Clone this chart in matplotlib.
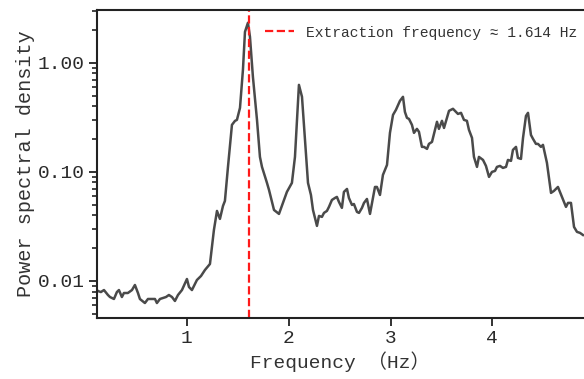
import numpy as np
import matplotlib.pyplot as plt

# Częstotliwość (Hz) i gęstość widmowa mocy
freq = [0.116, 0.126, 0.155, 0.185, 0.224, 0.244, 0.283, 0.312, 0.332, 0.361,
        0.381, 0.420, 0.460, 0.489, 0.519, 0.538, 0.587, 0.617, 0.656, 0.686,
        0.705, 0.735, 0.764, 0.794, 0.823, 0.853, 0.882, 0.912, 0.951, 1.000,
        1.020, 1.049, 1.098, 1.138, 1.177, 1.226, 1.265, 1.295, 1.324, 1.354,
        1.373, 1.403, 1.442, 1.472, 1.491, 1.521, 1.550, 1.570, 1.599, 1.619,
        1.648, 1.688, 1.717, 1.737, 1.786, 1.806, 1.855, 1.904, 1.943, 1.982,
        2.031, 2.061, 2.100, 2.130, 2.159, 2.189, 2.218, 2.238, 2.277, 2.297,
        2.326, 2.346, 2.375, 2.395, 2.424, 2.454, 2.473, 2.493, 2.522, 2.542,
        2.572, 2.591, 2.621, 2.640, 2.670, 2.690, 2.719, 2.739, 2.768, 2.798,
        2.847, 2.866, 2.896, 2.925, 2.965, 2.994, 3.024, 3.053, 3.092, 3.122,
        3.141, 3.161, 3.181, 3.210, 3.230, 3.259, 3.279, 3.308, 3.328, 3.358,
        3.377, 3.407, 3.436, 3.456, 3.475, 3.505, 3.525, 3.554, 3.574, 3.613,
        3.642, 3.662, 3.692, 3.721, 3.750, 3.770, 3.800, 3.819, 3.849, 3.868,
        3.908, 3.937, 3.967, 3.996, 4.026, 4.045, 4.075, 4.104, 4.134, 4.153,
        4.183, 4.202, 4.232, 4.251, 4.281, 4.301, 4.330, 4.350, 4.379, 4.399,
        4.428, 4.448, 4.477, 4.497, 4.536, 4.576, 4.605, 4.644, 4.684, 4.723,
        4.743, 4.772, 4.802, 4.831, 4.861, 4.890]
psd = [0.00826, 0.00809, 0.00792, 0.00826, 0.00744, 0.00713, 0.00684, 0.00792, 0.00826, 0.00713,
       0.00776, 0.00776, 0.00826, 0.00919, 0.00776, 0.00684, 0.00628, 0.00684, 0.00684, 0.00684,
       0.00628, 0.00684, 0.00698, 0.00713, 0.00744, 0.00713, 0.00656, 0.00744, 0.00826, 0.01043,
       0.00881, 0.00826, 0.01021, 0.01111, 0.01262, 0.01432, 0.02937, 0.04387, 0.03707, 0.04877,
       0.05420, 0.1112, 0.2700, 0.2937, 0.2999, 0.3864, 0.8627, 1.923, 2.328, 1.732,
       0.744, 0.300, 0.1373, 0.1112, 0.0793, 0.0684, 0.0448, 0.0412, 0.0520, 0.0656,
       0.0793, 0.1373, 0.628, 0.488, 0.1967, 0.0793, 0.0615, 0.0448, 0.0320, 0.0395,
       0.0387, 0.0421, 0.0439, 0.0478, 0.0553, 0.0577, 0.0590, 0.0531, 0.0468, 0.0656,
       0.0698, 0.0577, 0.0498, 0.0508, 0.0430, 0.0421, 0.0468, 0.0520, 0.0565, 0.0412,
       0.0728, 0.0728, 0.0615, 0.0938, 0.1159, 0.228, 0.333, 0.371, 0.448, 0.488,
       0.355, 0.313, 0.306, 0.270, 0.228, 0.248, 0.233, 0.1696, 0.1696, 0.1626,
       0.1807, 0.1884, 0.243, 0.288, 0.248, 0.294, 0.253, 0.313, 0.363, 0.379,
       0.355, 0.340, 0.348, 0.300, 0.294, 0.243, 0.205, 0.1373, 0.1112, 0.1373,
       0.1288, 0.1135, 0.0900, 0.1000, 0.1021, 0.1112, 0.1135, 0.1088, 0.1112, 0.1288,
       0.1262, 0.1592, 0.1696, 0.1343, 0.1316, 0.205, 0.326, 0.348, 0.218, 0.201,
       0.1807, 0.1807, 0.1696, 0.1770, 0.1210, 0.0642, 0.0670, 0.0728, 0.0590, 0.0478,
       0.0520, 0.0520, 0.0313, 0.0282, 0.0276, 0.0264]

f_ekstr = 1.614
y_ticks = [0.01, 0.1, 1.0]
y_tick_labels = ["0.01", "0.10", "1.00"]
x_ticks = [1, 2, 3, 4]

rodzina = ["Liberation Mono", "Noto Sans CJK SC", "DejaVu Sans"]
plt.rcParams["font.family"] = rodzina

fig = plt.figure(figsize=(5.84, 3.79), dpi=100)
ax = fig.add_axes([0.166, 0.161, 0.834, 0.813])

ax.plot(freq, psd, color="#4a4a4a", linewidth=1.8)
ax.axvline(f_ekstr, color="#ff1a1a", linestyle="--", linewidth=1.6,
           label=f"Extraction frequency ≈ {f_ekstr:.3f} Hz")

ax.set_yscale("log")
ax.set_xlim(0.116, 4.90)
ax.set_ylim(0.00458, 3.06)
ax.set_yticks(y_ticks)
ax.set_yticklabels(y_tick_labels)
ax.set_xticks(x_ticks)
ax.set_xticklabels([str(t) for t in x_ticks])

ax.tick_params(axis="both", which="major", labelsize=14, length=6, width=1.3,
               color="#222222", pad=3, labelcolor="#2a2a2a")
ax.tick_params(axis="both", which="minor", length=3.5, width=1.2, color="#222222")
ax.tick_params(axis="x", which="minor", bottom=False)

for s in ["left", "bottom", "top"]:
    ax.spines[s].set_linewidth(1.5)
    ax.spines[s].set_color("#222222")
ax.spines["right"].set_visible(False)

ax.set_xlabel("Frequency （Hz）", fontsize=14, color="#333333", labelpad=3)
ax.set_ylabel("Power spectral density", fontsize=14.5, color="#333333", labelpad=2)

ax.legend(loc="upper right", bbox_to_anchor=(0.998, 0.968), frameon=False,
          fontsize=10.5, handlelength=2.0, borderaxespad=0, labelcolor="#333333")

fig.savefig("out.png", dpi=100)
